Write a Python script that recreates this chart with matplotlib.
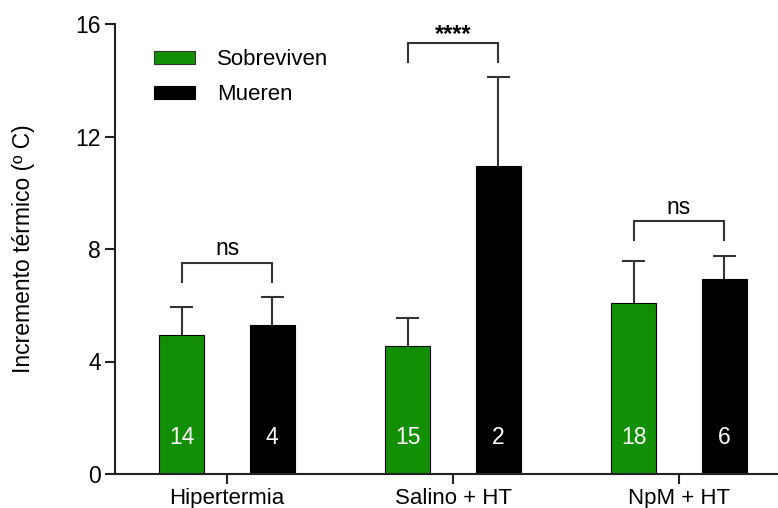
import matplotlib
matplotlib.use("Agg")
import matplotlib.pyplot as plt
import numpy as np
from matplotlib.patches import Patch

plt.rcParams['font.family'] = ['Liberation Sans', 'DejaVu Sans']

groups = ["Hipertermia", "Salino + HT", "NpM + HT"]
series = ["Sobreviven", "Mueren"]
surv_mean = [4.94, 4.55, 6.09]
surv_err = [0.99, 1.00, 1.47]
die_mean = [5.30, 10.95, 6.92]
die_err = [0.98, 3.15, 0.83]
surv_n = ["14", "15", "18"]
die_n = ["4", "2", "6"]
sig_labels = ["ns", "****", "ns"]
yticks = [0, 4, 8, 12, 16]

GREEN = "#138f06"
LINE = "#333333"

fig = plt.figure(figsize=(7.78, 5.08), dpi=100)
ax = fig.add_axes([115/778, 34/508, 663/778, 450/508])

x = np.arange(len(groups))
off = 0.2
w = 0.2
cw = 0.051

for xs, m, e in ((x - off, surv_mean, surv_err), (x + off, die_mean, die_err)):
    m = np.asarray(m)
    e = np.asarray(e)
    ax.vlines(xs, m, m + e, color=LINE, lw=1.5, zorder=1)
    ax.hlines(m + e, xs - cw, xs + cw, color=LINE, lw=1.5, zorder=1)

ax.bar(x - off, surv_mean, w, color=GREEN, edgecolor="black", linewidth=0.8, zorder=2)
ax.bar(x + off, die_mean, w, color="black", edgecolor="black", linewidth=0.8, zorder=2)

for i in range(3):
    ax.text(x[i] - off, 1.3, surv_n[i], color="white", ha="center", va="center", fontsize=16.5)
    ax.text(x[i] + off, 1.3, die_n[i], color="white", ha="center", va="center", fontsize=16.5)

# significance brackets
tops = [max(s + se, d + de) for s, se, d, de in zip(surv_mean, surv_err, die_mean, die_err)]
for i in range(3):
    top = tops[i] + 1.23
    leg = top - 0.67
    ax.plot([x[i] - off, x[i] - off, x[i] + off, x[i] + off], [leg, top, top, leg],
            color=LINE, lw=1.5, solid_joinstyle="miter", clip_on=False)
    if sig_labels[i] == "ns":
        ax.text(x[i], top + 0.27, sig_labels[i], ha="center", va="baseline", fontsize=16.5)
    else:
        ax.text(x[i], top + 0.30, sig_labels[i], ha="center", va="center", fontsize=17,
                fontweight="bold", linespacing=1)

ax.set_xlim(-0.496, 2.438)
ax.set_ylim(0, 16)
ax.set_yticks(yticks)
ax.set_yticklabels([str(t) for t in yticks], fontsize=16.5)
ax.set_xticks(x)
ax.set_xticklabels(groups, fontsize=16)
ax.set_ylabel("Incremento térmico (º C)", fontsize=16.5, labelpad=29)
for s in ["top", "right"]:
    ax.spines[s].set_visible(False)
for s in ["left", "bottom"]:
    ax.spines[s].set_linewidth(1.5)
    ax.spines[s].set_color("#222222")
ax.tick_params(axis="both", length=7, width=1.5, color="#222222", pad=3)

handles = [Patch(facecolor=GREEN, edgecolor="#333333", linewidth=0.8),
           Patch(facecolor="black", edgecolor="black", linewidth=0.8)]
ax.legend(handles, series, loc="upper left", bbox_to_anchor=(154/778, 1 - 49/508),
          bbox_transform=fig.transFigure, frameon=False, fontsize=16,
          handlelength=1.85, handleheight=0.54, handletextpad=1.0,
          labelspacing=0.65, borderpad=0, borderaxespad=0)

fig.savefig("out.png", dpi=100)
